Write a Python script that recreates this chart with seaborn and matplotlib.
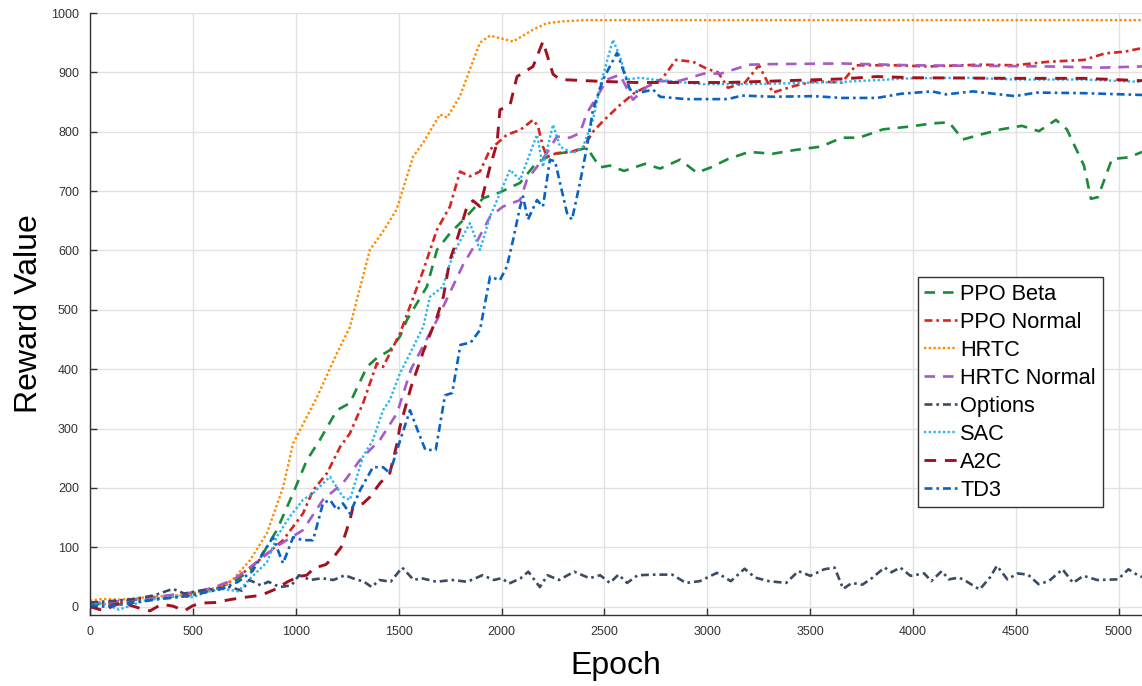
import pandas as pd
import seaborn as sns
import matplotlib.pyplot as plt

# reward curves (epoch, reward)
hrtc_x = [0, 60, 150, 250, 350, 450, 550, 650, 700, 777, 860, 938, 987, 1103, 1200, 1263, 1297,
          1360, 1420, 1490, 1570, 1620, 1700, 1735, 1798, 1846, 1895, 1944, 2056, 2153, 2220,
          2300, 2400, 5112]
hrtc_y = [10, 13, 12, 15, 18, 19, 26, 35, 48, 78, 124, 201, 275, 353, 427, 471, 517,
          601, 630, 669, 758, 782, 829, 824, 860, 905, 950, 962, 952, 972, 983,
          986, 988, 988]

ppo_beta_x = [0, 80, 150, 230, 300, 380, 460, 540, 620, 700, 780, 850, 908, 987, 1054, 1117,
              1200, 1263, 1346, 1394, 1457, 1506, 1540, 1637, 1686, 1749, 1813, 1910, 1992,
              2090, 2170, 2250, 2347, 2415, 2478, 2527, 2595, 2697, 2770, 2867, 2949, 3017,
              3100, 3202, 3318, 3420, 3552, 3654, 3737, 3853, 3989, 4091, 4174, 4242, 4324,
              4426, 4528, 4611, 4694, 4747, 4830, 4864, 4898, 4966, 5049, 5112]
ppo_beta_y = [3, 6, 9, 12, 14, 16, 19, 24, 32, 42, 62, 95, 129, 191, 247, 281,
              331, 343, 404, 419, 432, 455, 483, 539, 601, 629, 651, 688, 698,
              714, 748, 762, 767, 773, 740, 743, 734, 746, 738, 753, 731, 740,
              754, 766, 763, 769, 775, 790, 790, 804, 809, 814, 816, 787, 795,
              804, 810, 801, 820, 804, 743, 687, 690, 754, 757, 766]

ppo_normal_x = [0, 100, 200, 300, 400, 500, 600, 700, 800, 870, 938, 1035, 1084, 1152, 1215,
                1263, 1327, 1394, 1424, 1506, 1620, 1686, 1749, 1798, 1846, 1895, 1944, 2026,
                2090, 2153, 2177, 2201, 2220, 2269, 2347, 2396, 2444, 2493, 2575, 2648, 2707,
                2779, 2847, 2930, 2998, 3052, 3100, 3183, 3251, 3318, 3420, 3518, 3654, 3722,
                3907, 4072, 4324, 4494, 4660, 4830, 4932, 5029, 5112]
ppo_normal_y = [5, 4, 10, 13, 17, 22, 30, 45, 72, 92, 112, 157, 196, 225, 269,
                292, 343, 410, 404, 460, 567, 635, 674, 733, 725, 733, 770, 795,
                803, 820, 809, 775, 758, 764, 767, 773, 800, 818, 845, 866, 876,
                889, 921, 918, 906, 900, 874, 883, 912, 866, 877, 885, 883, 912,
                912, 910, 913, 912, 918, 921, 932, 935, 941]

hrtc_normal_x = [0, 100, 200, 300, 400, 500, 600, 700, 800, 900, 1035, 1132, 1229, 1312, 1409,
                 1492, 1560, 1620, 1686, 1750, 1813, 1880, 1944, 2007, 2090, 2123, 2172, 2220,
                 2269, 2332, 2381, 2415, 2464, 2512, 2575, 2638, 2707, 2770, 2867, 2983, 3066,
                 3202, 3318, 3654, 3989, 4324, 4660, 4912, 5112]
hrtc_normal_y = [6, 8, 12, 16, 20, 24, 32, 46, 72, 100, 129, 180, 208, 247, 281,
                 326, 400, 440, 483, 530, 576, 615, 657, 674, 685, 719, 741, 764,
                 792, 790, 798, 832, 859, 888, 896, 854, 876, 885, 886, 898, 898,
                 913, 914, 915, 912, 911, 910, 908, 910]

options_x = [0, 124, 217, 310, 403, 459, 533, 607, 682, 737, 774, 830, 867, 923, 979, 1016,
             1072, 1127, 1183, 1239, 1276, 1332, 1369, 1406, 1461, 1517, 1573, 1610, 1684,
             1758, 1833, 1907, 1963, 2000, 2037, 2093, 2130, 2186, 2223, 2279, 2353, 2427,
             2479, 2526, 2568, 2610, 2661, 2745, 2829, 2896, 2963, 3047, 3114, 3181, 3232,
             3299, 3383, 3442, 3500, 3568, 3618, 3660, 3702, 3753, 3803, 3861, 3895, 3937,
             3987, 4054, 4088, 4139, 4173, 4223, 4257, 4323, 4373, 4407, 4458, 4508, 4558,
             4609, 4659, 4726, 4777, 4827, 4894, 4995, 5046, 5096, 5112]
options_y = [7, 10, 13, 19, 30, 22, 27, 30, 33, 27, 45, 36, 42, 33, 36, 53,
             45, 48, 45, 53, 48, 42, 33, 45, 42, 66, 45, 48, 42,
             45, 42, 53, 45, 48, 39, 48, 59, 33, 53, 45, 59, 48,
             53, 40, 54, 40, 53, 54, 54, 40, 43, 57, 43, 64, 49,
             43, 40, 60, 52, 63, 66, 30, 40, 37, 49, 66, 58, 66,
             52, 56, 43, 60, 46, 49, 43, 29, 49, 69, 46, 56, 54,
             38, 43, 63, 40, 52, 45, 46, 63, 52, 50]

sac_x = [0, 60, 140, 200, 260, 340, 420, 500, 560, 640, 720, 780, 860, 908, 972, 1035, 1084,
         1166, 1229, 1263, 1327, 1375, 1424, 1457, 1506, 1560, 1620, 1652, 1715, 1749, 1783,
         1846, 1895, 1944, 1978, 2041, 2090, 2172, 2201, 2250, 2284, 2347, 2396, 2444, 2478,
         2541, 2575, 2609, 2672, 2736, 2983, 3318, 3654, 3989, 4257, 4494, 4830, 5112]
sac_y = [2, 6, -5, 2, 10, 14, 18, 16, 24, 30, 26, 48, 75, 118, 152, 180, 191,
         219, 185, 180, 253, 281, 331, 348, 393, 430, 472, 522, 539, 578, 606,
         646, 601, 657, 685, 736, 719, 795, 741, 812, 775, 764, 775, 820, 876,
         955, 927, 888, 891, 888, 880, 881, 884, 890, 891, 888, 888, 884]

a2c_x = [0, 69, 124, 180, 236, 292, 347, 403, 459, 496, 533, 607, 682, 756, 830, 904, 960,
         1016, 1053, 1090, 1146, 1183, 1220, 1263, 1278, 1327, 1361, 1409, 1457, 1492, 1506,
         1560, 1620, 1686, 1717, 1749, 1783, 1832, 1861, 1895, 1944, 1978, 1992, 2041, 2075,
         2153, 2201, 2250, 2284, 2478, 2648, 3100, 3654, 3824, 4000, 4494, 4830, 5112]
a2c_y = [0, -7, 4, 4, -2, -7, 4, 1, -7, 1, 6, 7, 12, 16, 19, 30, 42,
         51, 53, 65, 71, 83, 100, 146, 168, 174, 185, 208, 225, 275, 303,
         370, 430, 488, 522, 584, 618, 674, 684, 674, 741, 781, 837, 845, 893,
         910, 952, 897, 888, 885, 883, 883, 889, 893, 891, 890, 890, 886]

td3_x = [0, 80, 160, 240, 320, 400, 480, 560, 640, 720, 790, 841, 889, 938, 987, 1035, 1084,
         1132, 1166, 1200, 1229, 1263, 1312, 1375, 1424, 1457, 1492, 1555, 1600, 1630, 1680,
         1725, 1760, 1800, 1850, 1895, 1944, 1992, 2026, 2056, 2090, 2104, 2128, 2172, 2201,
         2235, 2260, 2318, 2342, 2381, 2415, 2444, 2493, 2561, 2590, 2624, 2672, 2736, 2770,
         2896, 3100, 3168, 3318, 3518, 3654, 3824, 3941, 4091, 4159, 4291, 4494, 4600, 4830,
         5112]
td3_y = [2, 0, 4, 8, 12, 15, 18, 24, 30, 42, 60, 90, 117, 73, 117, 112, 112,
         174, 180, 163, 174, 157, 196, 235, 235, 225, 264, 331, 290, 264, 264,
         356, 360, 441, 445, 466, 556, 550, 573, 618, 674, 691, 652, 685, 674,
         753, 750, 663, 652, 714, 775, 837, 888, 933, 905, 871, 866, 871, 859,
         855, 855, 861, 859, 860, 857, 857, 864, 868, 863, 868, 860, 866, 865,
         862]

series = [
    ("PPO Beta", ppo_beta_x, ppo_beta_y, "#1b8a3b", (0, (4, 3)), 1.9),
    ("PPO Normal", ppo_normal_x, ppo_normal_y, "#d7261e", (0, (3, 1.5, 1, 1.5)), 1.9),
    ("HRTC", hrtc_x, hrtc_y, "#ff8c00", (0, (1, 1)), 1.7),
    ("HRTC Normal", hrtc_normal_x, hrtc_normal_y, "#a55bc9", (0, (4, 3)), 1.9),
    ("Options", options_x, options_y, "#3b4b63", (0, (3, 1.5, 1, 1.5)), 1.9),
    ("SAC", sac_x, sac_y, "#2bb5ee", (0, (1, 1)), 1.7),
    ("A2C", a2c_x, a2c_y, "#a3111f", (0, (4, 3)), 2.1),
    ("TD3", td3_x, td3_y, "#0a63c2", (0, (3, 1.5, 1, 1.5)), 1.9),
]

sns.set_theme(style="whitegrid")
plt.rcParams['font.family'] = ['Liberation Sans', 'DejaVu Sans']

fig = plt.figure(figsize=(11.42, 6.86), dpi=100)
ax = fig.add_axes([0.0788, 0.1035, 0.9212, 0.8775])

for name, xs, ys, col, ls, lw in series:
    df = pd.DataFrame({"epoch": xs, "reward": ys})
    sns.lineplot(data=df, x="epoch", y="reward", ax=ax, color=col, linestyle=ls,
                 linewidth=lw, label=name, estimator=None, sort=False)

ax.set_xlim(0, 5112)
ax.set_ylim(-14, 1000)
ax.set_xticks(range(0, 5001, 500))
ax.set_yticks(range(0, 1001, 100))
ax.grid(True, color="#e2e2e2", linewidth=1.0)
ax.set_facecolor("white")
for side in ["top", "right"]:
    ax.spines[side].set_visible(False)
for side in ["left", "bottom"]:
    ax.spines[side].set_color("#333333")
    ax.spines[side].set_linewidth(1.0)
ax.tick_params(direction="in", length=5, width=1, colors="#333333",
               labelsize=9, labelcolor="#333333", left=True, bottom=True, pad=8)

ax.set_xlabel("Epoch", fontsize=23, color="black", labelpad=9)
ax.set_ylabel("Reward Value", fontsize=23, color="black", labelpad=5)

leg = ax.legend(loc="upper left", bbox_to_anchor=(0.787, 0.561), fontsize=15.7,
                frameon=True, fancybox=False, framealpha=1, edgecolor="#333333",
                handlelength=1.5, handletextpad=0.15, borderpad=0.3,
                labelspacing=0.32, borderaxespad=0, labelcolor="black")
leg.get_frame().set_linewidth(1.0)

fig.savefig("out.png", dpi=100, facecolor="white")
